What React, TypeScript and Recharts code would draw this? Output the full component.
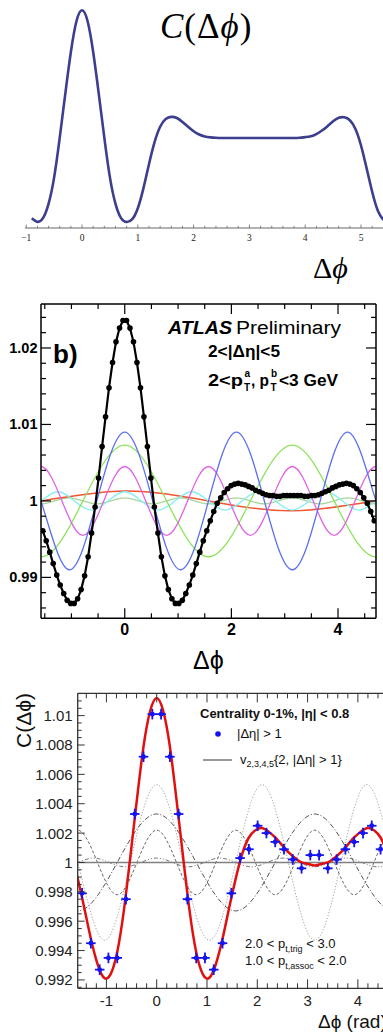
import React from 'react';
import { LineChart, ComposedChart, Line, XAxis, YAxis, Scatter, ErrorBar, ReferenceLine } from 'recharts';

const SANS = "'Liberation Sans', Arial, Helvetica, sans-serif";
const SERIF = "'Liberation Serif', 'Times New Roman', serif";

// ---------------- Panel A: model C(Δφ) ----------------
const aPhi = [-0.9,-0.8,-0.7,-0.6,-0.5,-0.4,-0.3,-0.2,-0.1,0,0.1,0.2,0.3,0.4,0.5,0.6,0.7,0.8,0.9,1.0,1.1,1.2,1.3,1.4,1.5,1.6,1.7,1.8,1.9,2.0,2.1,2.2,2.3,2.4,2.5,2.6,2.7,2.8,2.9,3.0,3.1,3.2,3.3,3.4,3.5,3.6,3.7,3.8,3.9,4.0,4.1,4.2,4.3,4.4,4.5,4.6,4.7,4.8,4.9,5.0,5.1,5.2,5.3,5.4];
const aC = [0.044,0.028,0.045,0.11,0.23,0.41,0.61,0.80,0.94,0.99,0.94,0.80,0.61,0.41,0.23,0.11,0.045,0.027,0.04,0.09,0.18,0.29,0.39,0.46,0.495,0.505,0.50,0.482,0.46,0.44,0.425,0.416,0.412,0.41,0.409,0.409,0.409,0.409,0.409,0.409,0.409,0.409,0.409,0.409,0.409,0.409,0.409,0.409,0.41,0.413,0.417,0.427,0.443,0.463,0.485,0.501,0.503,0.49,0.45,0.375,0.272,0.165,0.08,0.036];
const aTickValues = [-1,0,1,2,3,4,5];
const aTickLabels = ['\u22121','0','1','2','3','4','5'];

// ---------------- Panel B: ATLAS ----------------
const bPhi = [-1.538,-1.473,-1.407,-1.342,-1.276,-1.211,-1.145,-1.080,-1.014,-0.949,-0.884,-0.818,-0.753,-0.687,-0.622,-0.556,-0.491,-0.425,-0.360,-0.295,-0.229,-0.164,-0.098,-0.033,
0.033,0.098,0.164,0.229,0.295,0.360,0.425,0.491,0.556,0.622,0.687,0.753,0.818,0.884,0.949,1.014,1.080,1.145,1.211,1.276,1.342,1.407,1.473,1.538,
1.604,1.669,1.734,1.800,1.865,1.931,1.996,2.062,2.127,2.193,2.258,2.323,2.389,2.454,2.520,2.585,2.651,2.716,2.782,2.847,2.913,2.978,3.043,3.109,
3.174,3.240,3.305,3.371,3.436,3.502,3.567,3.632,3.698,3.763,3.829,3.894,3.960,4.025,4.091,4.156,4.222,4.287,4.352,4.418,4.483,4.549,4.614,4.680];
const bC = [0.9961,0.9948,0.9933,0.9918,0.9903,0.9890,0.9879,0.9870,0.9866,0.9866,0.9872,0.9884,0.9902,0.9927,0.9958,0.9992,1.0030,1.0071,1.0110,1.0148,1.0181,1.0208,1.0226,1.0236,
1.0236,1.0226,1.0208,1.0181,1.0148,1.0110,1.0071,1.0030,0.9992,0.9958,0.9927,0.9902,0.9884,0.9872,0.9866,0.9866,0.9870,0.9879,0.9890,0.9903,0.9918,0.9933,0.9948,0.9961,
0.9974,0.9986,0.9997,1.0004,1.0011,1.0016,1.0020,1.0022,1.0023,1.0022,1.0021,1.0019,1.0017,1.0014,1.0012,1.0010,1.0008,1.0007,1.0007,1.0006,1.0006,1.0007,1.0007,1.0007,
1.0007,1.0007,1.0007,1.0006,1.0006,1.0007,1.0007,1.0008,1.0010,1.0012,1.0014,1.0017,1.0019,1.0021,1.0022,1.0023,1.0022,1.0020,1.0016,1.0011,1.0004,0.9997,0.9986,0.9974];

const bV3Phi = [-2.094,-1.571,-1.047,-0.524,0,0.524,1.047,1.571,2.094,2.618,3.142,3.665,4.189,4.712,5.236];
const bV3C = [1.009,1.0,0.991,1.0,1.009,1.0,0.991,1.0,1.009,1.0,0.991,1.0,1.009,1.0,0.991];
const bV2Phi = [-2.356,-1.571,-0.785,0,0.785,1.571,2.356,3.142,3.927,4.712,5.498];
const bV2C = [1.0,0.9927,1.0,1.0073,1.0,0.9927,1.0,1.0073,1.0,0.9927,1.0];
const bV4Phi = [-1.963,-1.571,-1.178,-0.785,-0.393,0,0.393,0.785,1.178,1.571,1.963,2.356,2.749,3.142,3.534,3.927,4.320,4.712,5.105];
const bV4C = [1.0,1.0045,1.0,0.9955,1.0,1.0045,1.0,0.9955,1.0,1.0045,1.0,0.9955,1.0,1.0045,1.0,0.9955,1.0,1.0045,1.0];
const bV5Phi = [-1.885,-1.571,-1.257,-0.942,-0.628,-0.314,0,0.314,0.628,0.942,1.257,1.571,1.885,2.199,2.513,2.827,3.142,3.456,3.770,4.084,4.398,4.712,5.027];
const bV5C = [0.9988,1.0,1.0012,1.0,0.9988,1.0,1.0012,1.0,0.9988,1.0,1.0012,1.0,0.9988,1.0,1.0012,1.0,0.9988,1.0,1.0012,1.0,0.9988,1.0,1.0012];
const bV1Phi = [-3.142,-1.571,0,1.571,3.142,4.712,6.283];
const bV1C = [0.9987,1.0,1.0013,1.0,0.9987,1.0,1.0013];
const bV6Phi = [-1.833,-1.571,-1.309,-1.047,-0.785,-0.524,-0.262,0,0.262,0.524,0.785,1.047,1.309,1.571,1.833,2.094,2.356,2.618,2.880,3.142,3.403,3.665,3.927,4.189,4.451,4.712,4.974];
const bV6C = [1.0,0.9996,1.0,1.0004,1.0,0.9996,1.0,1.0004,1.0,0.9996,1.0,1.0004,1.0,0.9996,1.0,1.0004,1.0,0.9996,1.0,1.0004,1.0,0.9996,1.0,1.0004,1.0,0.9996,1.0];
const bXMajors = [0,2,4];
const bXLabels = ['0','2','4'];
const bYMajors = [0.99,1,1.01,1.02];
const bYLabels = ['0.99','1','1.01','1.02'];

// ---------------- Panel C ----------------
const cPhi = [-1.484,-1.309,-1.134,-0.960,-0.785,-0.611,-0.436,-0.262,-0.087,0.087,0.262,0.436,0.611,0.785,0.960,1.134,1.309,1.484,1.658,1.833,2.007,2.182,2.356,2.531,2.705,2.880,3.054,3.229,3.403,3.578,3.752,3.927,4.102,4.276,4.451,4.625];
const cC = [0.9979,0.9945,0.9927,0.9935,0.9935,0.9975,1.0033,1.0072,1.0101,1.0101,1.0072,1.0033,0.9975,0.9935,0.9935,0.9927,0.9945,0.9979,1.0003,1.0009,1.0025,1.0020,1.0014,1.0009,1.0002,0.9996,1.0005,1.0005,0.9996,1.0002,1.0009,1.0014,1.0020,1.0025,1.0009,1.0003];
const cErrY = [0.00036,0.00036,0.00036,0.00036,0.00036,0.00036,0.00036,0.00036,0.00036,0.00036,0.00036,0.00036,0.00036,0.00036,0.00036,0.00036,0.00036,0.00036,0.00036,0.00036,0.00036,0.00036,0.00036,0.00036,0.00036,0.00036,0.00036,0.00036,0.00036,0.00036,0.00036,0.00036,0.00036,0.00036,0.00036,0.00036];
const cErrX = 0.095;

const cFitPhi = [-1.702,-1.571,-1.440,-1.309,-1.178,-1.047,-0.916,-0.785,-0.654,-0.524,-0.393,-0.262,-0.131,0,0.131,0.262,0.393,0.524,0.654,0.785,0.916,1.047,1.178,1.309,1.440,1.571,1.702,1.833,1.963,2.094,2.225,2.356,2.487,2.618,2.749,2.880,3.011,3.142,3.272,3.403,3.534,3.665,3.796,3.927,4.058,4.189,4.320,4.451,4.581,4.712,4.843];
const cFitC = [1.0006,0.9989,0.9969,0.9948,0.9931,0.99215,0.9924,0.9939,0.9967,1.0004,1.0043,1.0079,1.0103,1.0112,1.0103,1.0079,1.0043,1.0004,0.9967,0.9939,0.9924,0.99215,0.9931,0.9948,0.9969,0.9989,1.0006,1.0017,1.0022,1.00235,1.0021,1.0017,1.0012,1.0007,1.0003,1.0000,0.9999,0.9998,0.9999,1.0000,1.0003,1.0007,1.0012,1.0017,1.0021,1.00235,1.0022,1.0017,1.0006,0.9989,0.9969];

const cV3C = [1.0053,1.0,0.9947,1.0,1.0053,1.0,0.9947,1.0,1.0053,1.0,0.9947,1.0,1.0053,1.0,0.9947];
const cV2C = [1.0,0.9967,1.0,1.0033,1.0,0.9967,1.0,1.0033,1.0,0.9967,1.0];
const cV4C = [1.0,1.0022,1.0,0.9978,1.0,1.0022,1.0,0.9978,1.0,1.0022,1.0,0.9978,1.0,1.0022,1.0,0.9978,1.0,1.0022,1.0];
const cV5C = [0.9997,1.0,1.0003,1.0,0.9997,1.0,1.0003,1.0,0.9997,1.0,1.0003,1.0,0.9997,1.0,1.0003,1.0,0.9997,1.0,1.0003,1.0,0.9997,1.0,1.0003];
const cXMajors = [-1,0,1,2,3,4];
const cXLabels = ['-1','0','1','2','3','4'];
const cYMajors = [0.992,0.994,0.996,0.998,1,1.002,1.004,1.006,1.008,1.01];
const cYLabels = ['0.992','0.994','0.996','0.998','1','1.002','1.004','1.006','1.008','1.01'];

// ---------------- helpers ----------------
const pts = (xs: number[], ys: number[]) => xs.map((x, i) => ({ x, y: ys[i] }));
const range = (s: number, e: number, st: number) => {
  const out: number[] = [];
  for (let v = s; v <= e + st * 1e-6; v += st) out.push(Math.round(v * 1e6) / 1e6);
  return out;
};
const near = (a: number, b: number) => Math.abs(a - b) < 1e-7;

type TickOpts = {
  side: 'bottom' | 'top' | 'left' | 'right';
  majors: number[];
  majorLen: number;
  minorLen: number;
  labelVals?: number[];
  labelTexts?: string[];
  labelOffset?: number;
  baseShift?: number;
  fontSize?: number;
  fontWeight?: any;
  fontFamily?: string;
  color: string;
  sw: number;
  textColor?: string;
};

function makeTick(o: TickOpts) {
  return (p: any) => {
    const { x, y, payload } = p;
    const v = payload.value;
    const major = o.majors.some((m) => near(m, v));
    const len = major ? o.majorLen : o.minorLen;
    let idx = -1;
    if (o.labelVals) idx = o.labelVals.findIndex((l) => near(l, v));
    const lab = idx >= 0 && o.labelTexts ? o.labelTexts[idx] : null;
    let line: any = null;
    let text: any = null;
    const tp = { fontSize: o.fontSize, fontWeight: o.fontWeight, fontFamily: o.fontFamily, fill: o.textColor || '#000' };
    if (o.side === 'bottom') {
      line = <line x1={x} x2={x} y1={y} y2={y - len} stroke={o.color} strokeWidth={o.sw} />;
      if (lab) text = <text x={x} y={y + (o.labelOffset || 0)} textAnchor="middle" {...tp}>{lab}</text>;
    } else if (o.side === 'top') {
      line = <line x1={x} x2={x} y1={y} y2={y + len} stroke={o.color} strokeWidth={o.sw} />;
    } else if (o.side === 'left') {
      line = <line x1={x} x2={x + len} y1={y} y2={y} stroke={o.color} strokeWidth={o.sw} />;
      if (lab) text = <text x={x - (o.labelOffset || 0)} y={y + (o.baseShift || 0)} textAnchor="end" {...tp}>{lab}</text>;
    } else {
      line = <line x1={x} x2={x - len} y1={y} y2={y} stroke={o.color} strokeWidth={o.sw} />;
    }
    return (
      <g>
        {line}
        {text}
      </g>
    );
  };
}

// ---------------- charts ----------------
function PanelA() {
  const data = pts(aPhi, aC);
  const ticks = range(-1, 5.2, 0.2);
  return (
    <LineChart width={383} height={290} margin={{ top: 8, right: 0, bottom: 0, left: 25 }} data={data}>
      <XAxis
        type="number"
        dataKey="x"
        domain={[-1.022, 5.394]}
        allowDataOverflow
        ticks={ticks}
        interval={0}
        height={62}
        tickSize={0}
        tickMargin={0}
        tickLine={false}
        axisLine={{ stroke: '#666', strokeWidth: 1 }}
        tick={makeTick({ side: 'bottom', majors: aTickValues, majorLen: 3.5, minorLen: 2.2, labelVals: aTickValues, labelTexts: aTickLabels, labelOffset: 13, fontSize: 9.5, fontFamily: SERIF, color: '#666', sw: 0.8, textColor: '#222' })}
      />
      <YAxis hide type="number" domain={[0, 1]} allowDataOverflow />
      <Line type="natural" dataKey="y" stroke="#3c3e8e" strokeWidth={2.6} dot={false} isAnimationActive={false} />
    </LineChart>
  );
}

function PanelB() {
  const xt = range(-1.5, 4.5, 0.5);
  const yt = range(0.986, 1.024, 0.002);
  const dom: [number, number] = [-1.5708, 4.7124];
  const ydom: [number, number] = [0.98465, 1.02575];
  const ax = { stroke: '#000', strokeWidth: 1.5 };
  const tc = { color: '#000', sw: 1.2 };
  const lineProps = { type: 'natural' as const, dataKey: 'y', dot: false, isAnimationActive: false, strokeWidth: 1.3 };
  return (
    <ComposedChart width={383} height={390} margin={{ top: 0, right: 0, bottom: 0, left: 0 }}>
      <XAxis type="number" dataKey="x" domain={dom} allowDataOverflow ticks={xt} interval={0} height={61.7} tickSize={0} tickMargin={0} tickLine={false} axisLine={ax}
        tick={makeTick({ side: 'bottom', majors: bXMajors, majorLen: 10, minorLen: 5, labelVals: bXMajors, labelTexts: bXLabels, labelOffset: 17, fontSize: 16, fontWeight: 'bold', fontFamily: SANS, ...tc })} />
      <XAxis xAxisId="top" orientation="top" type="number" dataKey="x" domain={dom} allowDataOverflow ticks={xt} interval={0} height={14} tickSize={0} tickMargin={0} tickLine={false} axisLine={ax}
        tick={makeTick({ side: 'top', majors: bXMajors, majorLen: 10, minorLen: 5, ...tc })} />
      <YAxis type="number" domain={ydom} allowDataOverflow ticks={yt} interval={0} width={41} tickSize={0} tickMargin={0} tickLine={false} axisLine={ax}
        tick={makeTick({ side: 'left', majors: bYMajors, majorLen: 10, minorLen: 5, labelVals: bYMajors, labelTexts: bYLabels, labelOffset: 3.5, baseShift: 5, fontSize: 14.5, fontWeight: 'bold', fontFamily: SANS, ...tc })} />
      <YAxis yAxisId="right" orientation="right" type="number" domain={ydom} allowDataOverflow ticks={yt} interval={0} width={7} tickSize={0} tickMargin={0} tickLine={false} axisLine={ax}
        tick={makeTick({ side: 'right', majors: bYMajors, majorLen: 10, minorLen: 5, ...tc })} />
      <Line {...lineProps} data={pts(bV6Phi, bV6C)} stroke="#a8d69a" />
      <Line {...lineProps} data={pts(bV1Phi, bV1C)} stroke="#ee5530" strokeWidth={1.5} />
      <Line {...lineProps} data={pts(bV5Phi, bV5C)} stroke="#86eef2" />
      <Line {...lineProps} data={pts(bV2Phi, bV2C)} stroke="#8fe35c" />
      <Line {...lineProps} data={pts(bV4Phi, bV4C)} stroke="#e062e4" />
      <Line {...lineProps} data={pts(bV3Phi, bV3C)} stroke="#5c6ef2" />
      <Line type="linear" dataKey="y" data={pts(bPhi, bC)} stroke="#000" strokeWidth={2.2} dot={{ r: 2.8, fill: '#000', stroke: '#000', strokeWidth: 0 }} isAnimationActive={false} />
    </ComposedChart>
  );
}

function PanelC() {
  const xt = range(-1.4, 4.6, 0.2);
  const yt = range(0.9915, 1.0115, 0.0005);
  const dom: [number, number] = [-1.5708, 4.7124];
  const ydom: [number, number] = [0.99143, 1.01152];
  const ax = { stroke: '#333', strokeWidth: 1.3 };
  const tc = { color: '#333', sw: 1 };
  const grey = { type: 'natural' as const, dataKey: 'y', dot: false, isAnimationActive: false, strokeWidth: 1 };
  const scat = cPhi.map((x, i) => ({ x, y: cC[i], ey: cErrY[i], ex: cErrX }));
  return (
    <ComposedChart width={400} height={352} margin={{ top: 0, right: 6.3, bottom: 0, left: 0 }}>
      <XAxis type="number" dataKey="x" domain={dom} allowDataOverflow ticks={xt} interval={0} height={43.7} tickSize={0} tickMargin={0} tickLine={false} axisLine={ax}
        tick={makeTick({ side: 'bottom', majors: cXMajors, majorLen: 9, minorLen: 5, labelVals: cXMajors, labelTexts: cXLabels, labelOffset: 18, fontSize: 15, fontFamily: SANS, textColor: '#222', ...tc })} />
      <XAxis xAxisId="top" orientation="top" type="number" dataKey="x" domain={dom} allowDataOverflow ticks={xt} interval={0} height={13.3} tickSize={0} tickMargin={0} tickLine={false} axisLine={ax}
        tick={makeTick({ side: 'top', majors: cXMajors, majorLen: 9, minorLen: 5, ...tc })} />
      <YAxis type="number" domain={ydom} allowDataOverflow ticks={yt} interval={0} width={77.7} tickSize={0} tickMargin={0} tickLine={false} axisLine={ax}
        tick={makeTick({ side: 'left', majors: cYMajors, majorLen: 7, minorLen: 4, labelVals: cYMajors, labelTexts: cYLabels, labelOffset: 5, baseShift: 5.5, fontSize: 15, fontFamily: SANS, textColor: '#222', ...tc })} />
      <Line {...grey} data={pts(bV3Phi, cV3C)} stroke="#a0a0a0" strokeDasharray="1.2 1.8" />
      <Line {...grey} data={pts(bV2Phi, cV2C)} stroke="#555" strokeDasharray="5 2 1 2" />
      <Line {...grey} data={pts(bV4Phi, cV4C)} stroke="#666" strokeDasharray="3 2" />
      <Line {...grey} data={pts(bV5Phi, cV5C)} stroke="#777" strokeDasharray="4 2 1 2 1 2" />
      <ReferenceLine y={1} stroke="#808080" strokeWidth={1.6} />
      <Line type="natural" dataKey="y" data={pts(cFitPhi, cFitC)} stroke="#e01010" strokeWidth={2.5} dot={false} isAnimationActive={false} />
      <Scatter data={scat} dataKey="y" fill="#1414f0" isAnimationActive={false}
        shape={(p: any) => <circle cx={p.cx} cy={p.cy} r={2.4} fill="#1414f0" />}>
        <ErrorBar dataKey="ey" direction="y" width={0} stroke="#1414f0" strokeWidth={1.8} isAnimationActive={false} />
        <ErrorBar dataKey="ex" direction="x" width={0} stroke="#1414f0" strokeWidth={1.8} isAnimationActive={false} />
      </Scatter>
    </ComposedChart>
  );
}

function Overlay() {
  const blue = '#1414f0';
  return (
    <svg width={383} height={1032} style={{ position: 'absolute', left: 0, top: 0, pointerEvents: 'none' }}>
      {/* Panel A */}
      <text x={160} y={38} fontFamily={SERIF} fontSize={35} fill="#000" letterSpacing={1}>
        <tspan fontStyle="italic">C</tspan>(Δ<tspan fontStyle="italic">ϕ</tspan>)
      </text>
      <text x={313} y={278} fontFamily={SERIF} fontSize={30} fill="#000">
        Δ<tspan fontStyle="italic">ϕ</tspan>
      </text>
      {/* Panel B */}
      <text x={53} y={363} fontFamily={SANS} fontSize={26} fontWeight="bold" fill="#000">b)</text>
      <text x={168} y={334} fontFamily={SANS} fontSize={18} fontWeight="bold" fontStyle="italic" fill="#000" textLength={64} lengthAdjust="spacingAndGlyphs">ATLAS</text>
      <text x={236} y={334} fontFamily={SANS} fontSize={18} fill="#000" textLength={105} lengthAdjust="spacingAndGlyphs">Preliminary</text>
      <text x={208} y={357} fontFamily={SANS} fontSize={16} fontWeight="bold" fill="#000" textLength={72} lengthAdjust="spacingAndGlyphs">2&lt;|Δη|&lt;5</text>
      <g fontFamily={SANS} fontWeight="bold" fill="#000">
        <text x={208} y={386} fontSize={16} textLength={35} lengthAdjust="spacingAndGlyphs">2&lt;p</text>
        <text x={244.5} y={377} fontSize={10}>a</text>
        <text x={244} y={391} fontSize={10}>T</text>
        <text x={251} y={386} fontSize={16} textLength={18} lengthAdjust="spacingAndGlyphs">, p</text>
        <text x={271} y={377} fontSize={10}>b</text>
        <text x={270.5} y={391} fontSize={10}>T</text>
        <text x={279} y={386} fontSize={16} textLength={59} lengthAdjust="spacingAndGlyphs">&lt;3 GeV</text>
      </g>
      <text x={193} y={669} fontFamily={SANS} fontSize={25} fill="#000">Δϕ</text>
      {/* Panel C */}
      <text transform="translate(31,693) rotate(-90)" textAnchor="end" fontFamily={SANS} fontSize={21} fill="#111">C(Δϕ)</text>
      <text x={318} y={1028} fontFamily={SANS} fontSize={19} fill="#111">Δϕ (rad)</text>
      <text x={200} y={718} fontFamily={SANS} fontSize={13} fontWeight="bold" fill="#111">Centrality 0-1%, |η| &lt; 0.8</text>
      <circle cx={218} cy={734} r={2.8} fill={blue} />
      <text x={237} y={738} fontFamily={SANS} fontSize={13} fill="#111">|Δη| &gt; 1</text>
      <line x1={203} x2={232} y1={760} y2={760} stroke="#333" strokeWidth={1} />
      <text x={240} y={764} fontFamily={SANS} fontSize={13} fill="#111">
        v<tspan fontSize={9} dy={3}>2,3,4,5</tspan><tspan dy={-3}>{'{2, |Δη| > 1}'}</tspan>
      </text>
      <text x={245} y={948} fontFamily={SANS} fontSize={13} fill="#111">
        2.0 &lt; p<tspan fontSize={9} dy={4}>t,trig</tspan><tspan dy={-4}> &lt; 3.0</tspan>
      </text>
      <text x={245} y={965} fontFamily={SANS} fontSize={13} fill="#111">
        1.0 &lt; p<tspan fontSize={9} dy={4}>t,assoc</tspan><tspan dy={-4}> &lt; 2.0</tspan>
      </text>
    </svg>
  );
}

export default function App() {
  return (
    <div style={{ position: 'absolute', left: 0, top: 0, width: 383, height: 1032, overflow: 'hidden', background: '#fff' }}>
      <div style={{ position: 'absolute', left: 0, top: 0 }}>
        <PanelA />
      </div>
      <div style={{ position: 'absolute', left: 0, top: 290 }}>
        <PanelB />
      </div>
      <div style={{ position: 'absolute', left: 0, top: 680 }}>
        <PanelC />
      </div>
      <Overlay />
    </div>
  );
}
